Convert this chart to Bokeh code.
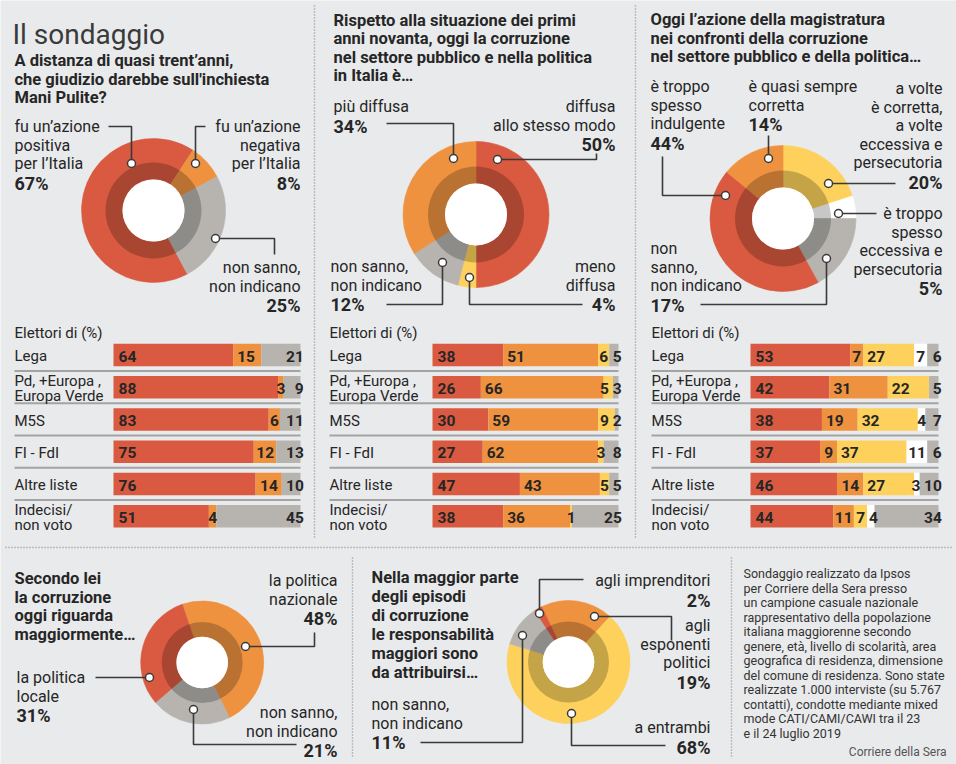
import math
from bokeh.plotting import figure
from bokeh.models import Range1d, ColumnDataSource
from bokeh.core.properties import value
from bokeh.embed import file_html
from bokeh.resources import INLINE

# ---------------- DATA ----------------
groups = ["Lega", "Pd, +Europa , Europa Verde", "M5S", "FI - FdI", "Altre liste", "Indecisi/ non voto"]
group_lines = [["Lega"], ["Pd, +Europa ,", "Europa Verde"], ["M5S"], ["FI - FdI"],
               ["Altre liste"], ["Indecisi/", "non voto"]]

# Q1 Mani Pulite
q1_cats = ["fu un’azione positiva per l’Italia", "fu un’azione negativa per l’Italia", "non sanno, non indicano"]
q1_vals = [67, 8, 25]
q1_positiva = [64, 88, 83, 75, 76, 51]
q1_negativa = [15, 3, 6, 12, 14, 4]
q1_nonsanno = [21, 9, 11, 13, 10, 45]

# Q2 corruzione rispetto ai primi anni novanta
q2_cats = ["diffusa allo stesso modo", "meno diffusa", "non sanno, non indicano", "più diffusa"]
q2_vals = [50, 4, 12, 34]
q2_piu = [38, 26, 30, 27, 47, 38]
q2_stesso = [51, 66, 59, 62, 43, 36]
q2_meno = [6, 5, 9, 3, 5, 1]
q2_nonsanno = [5, 3, 2, 8, 5, 25]

# Q3 azione della magistratura
q3_cats = ["a volte è corretta, a volte eccessiva e persecutoria", "è troppo spesso eccessiva e persecutoria",
           "non sanno, non indicano", "è troppo spesso indulgente", "è quasi sempre corretta"]
q3_vals = [20, 5, 17, 44, 14]
q3_indulgente = [53, 42, 38, 37, 46, 44]
q3_corretta = [7, 31, 19, 9, 14, 11]
q3_avolte = [27, 22, 32, 37, 27, 7]
q3_eccessiva = [7, 0, 4, 11, 3, 4]
q3_nonsanno = [6, 5, 7, 6, 10, 34]

# Q4 la corruzione riguarda maggiormente
q4_cats = ["la politica nazionale", "non sanno, non indicano", "la politica locale"]
q4_vals = [48, 21, 31]

# Q5 responsabilità
q5_cats = ["agli esponenti politici", "a entrambi", "non sanno, non indicano", "agli imprenditori"]
q5_vals = [19, 68, 11, 2]

note_lines = ["Sondaggio realizzato da Ipsos", "per Corriere della Sera presso",
              "un campione casuale nazionale", "rappresentativo della popolazione",
              "italiana maggiorenne secondo", "genere, età, livello di scolarità, area",
              "geografica di residenza, dimensione", "del comune di residenza. Sono state",
              "realizzate 1.000 interviste (su 5.767", "contatti), condotte mediante mixed",
              "mode CATI/CAMI/CAWI tra il 23", "e il 24 luglio 2019"]

# ---------------- STYLE ----------------
BG = "#e9eaec"
RED = "#d95a40"
ORANGE = "#ef9240"
YELLOW = "#fdd15c"
GRAY = "#b7b4b0"
WHITE = "#ffffff"
TXT = "#262626"
LINE = "#3a3a3a"
FONT = "Roboto"

X0, X1 = 0, 956
HREF = 764


def Y(r):
    return HREF - r


p = figure(width=956, height=764, x_range=Range1d(X0, X1), y_range=Range1d(0, HREF),
           x_axis_type=None, y_axis_type=None, toolbar_location=None, output_backend="svg",
           min_border=0)
p.outline_line_color = None
p.background_fill_color = BG
p.border_fill_color = BG


def T(x, y, s, size=16, bold=False, align="left", color=TXT, font=FONT, baseline="middle",
      xr=None, xoff=0):
    kw = {}
    if xr:
        kw["x_range_name"] = xr
    p.text(x=[x], y=[Y(y)], text=[s], text_font=value(font), text_font_size=value(f"{size}px"),
           text_font_style="bold" if bold else "normal", text_align=align, text_baseline=baseline,
           text_color=color, x_offset=xoff, **kw)


def block(x, y0, lines, pct, align="left", step=18.5, pstep=19.5):
    y = y0
    for ln in lines:
        T(x, y, ln, 16, False, align)
        y += step
    T(x, y - step + pstep, pct, 18, True, align)


def donut(cx, cy, r_out, r_mid, r_hole, vals, colors, start_cw):
    cum = 0.0
    sa, ea = [], []
    for v in vals:
        th1 = start_cw + cum * 3.6
        th2 = th1 + v * 3.6
        sa.append(math.radians(90 - th2))
        ea.append(math.radians(90 - th1))
        cum += v
    src = ColumnDataSource(dict(x=[cx] * len(vals), y=[Y(cy)] * len(vals), sa=sa, ea=ea, c=colors))
    p.annular_wedge(x="x", y="y", inner_radius=r_hole, outer_radius=r_out, start_angle="sa",
                    end_angle="ea", fill_color="c", line_color="c", line_width=0.6, source=src)
    p.annulus(x=[cx], y=[Y(cy)], inner_radius=r_hole, outer_radius=r_mid, fill_color="black",
              fill_alpha=0.22, line_color=None)
    p.circle(x=[cx], y=[Y(cy)], radius=r_hole, fill_color="white", line_color=None)


def leaders(paths, dots):
    p.multi_line(xs=[[a for a, b in pth] for pth in paths], ys=[[Y(b) for a, b in pth] for pth in paths],
                 line_color=LINE, line_width=1.6)
    p.scatter(x=[a for a, b in dots], y=[Y(b) for a, b in dots], size=8, marker="circle",
              fill_color="white", line_color=LINE, line_width=1.5)


# ---------------- DIVIDERS ----------------
p.multi_line(xs=[[314, 314], [635, 635], [5, 951], [352, 352], [731, 731]],
             ys=[[Y(5), Y(537)], [Y(5), Y(537)], [Y(547), Y(547)], [Y(557), Y(757)], [Y(557), Y(757)]],
             line_color="#8c8c8c", line_width=1.4, line_dash="1 2")

# ---------------- TOP DONUTS ----------------
T(12, 34, "Il sondaggio", 28, False, "left", "#3a3a3a", baseline="alphabetic")
for i, s in enumerate(["A distanza di quasi trent’anni,", "che giudizio darebbe sull'inchiesta", "Mani Pulite?"]):
    T(14, 60 + 18.5 * i, s, 16.5, True)

donut(153, 210, 72, 48, 31, [q1_vals[0], q1_vals[1], q1_vals[2]], [RED, ORANGE, GRAY], 152)
block(14, 126, ["fu un’azione", "positiva", "per l’Italia"], f"{q1_vals[0]}%")
block(300, 126, ["fu un’azione", "negativa", "per l’Italia"], f"{q1_vals[1]}%", "right")
block(300, 267, ["non sanno,", "non indicano"], f"{q1_vals[2]}%", "right")
leaders([[(108, 126), (131, 126), (131, 163)], [(205, 126), (195, 126), (195, 163)],
         [(215, 238), (274, 238), (274, 254)]],
        [(131, 163), (195, 163), (215, 238)])

for i, s in enumerate(["Rispetto alla situazione dei primi", "anni novanta, oggi la corruzione",
                       "nel settore pubblico e nella politica", "in Italia è…"]):
    T(333, 20 + 18.3 * i, s, 16.5, True)
donut(475.5, 214, 73, 48, 31, q2_vals, [RED, YELLOW, GRAY, ORANGE], 0)
block(333, 106, ["più diffusa"], f"{q2_vals[3]}%")
block(615, 106, ["diffusa", "allo stesso modo"], f"{q2_vals[0]}%", "right")
block(330, 266, ["non sanno,", "non indicano"], f"{q2_vals[2]}%")
block(615, 266, ["meno", "diffusa"], f"{q2_vals[1]}%", "right")
leaders([[(386, 123), (453, 123), (453, 158)], [(497, 159), (596, 159), (596, 153)],
         [(386, 304), (442, 304), (442, 262)], [(469, 277), (469, 304), (582, 304)]],
        [(453, 158), (497, 159), (442, 262), (469, 277)])

for i, s in enumerate(["Oggi l’azione della magistratura", "nei confronti della corruzione",
                       "nel settore pubblico e della politica…"]):
    T(650, 19 + 18.5 * i, s, 16.5, True)
donut(782.5, 218, 73, 48, 31, q3_vals, [YELLOW, WHITE, GRAY, RED, ORANGE], 0)
block(650, 86, ["è troppo", "spesso", "indulgente"], f"{q3_vals[3]}%")
block(748, 86, ["è quasi sempre", "corretta"], f"{q3_vals[4]}%")
block(942, 88, ["a volte", "è corretta,", "a volte", "eccessiva e", "persecutoria"], f"{q3_vals[0]}%", "right")
block(942, 213, ["è troppo", "spesso", "eccessiva e", "persecutoria"], f"{q3_vals[1]}%", "right")
block(650, 248, ["non", "sanno,", "non indicano"], f"{q3_vals[2]}%")
leaders([[(662, 156), (662, 195), (725, 195)], [(768, 158), (768, 135)], [(828, 183), (895, 183)],
         [(838, 213), (876, 213)], [(700, 304), (826, 304), (826, 258)]],
        [(725, 195), (768, 158), (828, 183), (838, 213), (826, 258)])

# ---------------- BAR PANELS ----------------
ROW_Y = [354.5 + 32.25 * i for i in range(6)]
panels = [
    dict(lx=14, bx0=113, bx1=300, series=[q1_positiva, q1_negativa, q1_nonsanno],
         colors=[RED, ORANGE, GRAY]),
    dict(lx=329, bx0=432, bx1=618, series=[q2_piu, q2_stesso, q2_meno, q2_nonsanno],
         colors=[RED, ORANGE, YELLOW, GRAY]),
    dict(lx=651, bx0=750, bx1=938, series=[q3_indulgente, q3_corretta, q3_avolte, q3_eccessiva, q3_nonsanno],
         colors=[RED, ORANGE, YELLOW, WHITE, GRAY]),
]
extra = {}
for k, pn in enumerate(panels):
    bw = pn["bx1"] - pn["bx0"]
    extra[f"pct{k}"] = Range1d((X0 - pn["bx0"]) * 100.0 / bw, (X1 - pn["bx0"]) * 100.0 / bw)
p.extra_x_ranges = extra

DIG = 8.7  # approx px width of a bold digit
GAP = 4
for k, pn in enumerate(panels):
    xr = f"pct{k}"
    bx0, bx1 = pn["bx0"], pn["bx1"]
    bw = bx1 - bx0
    T(pn["lx"], 332, "Elettori di (%)", 15)
    # separators
    p.multi_line(xs=[[pn["lx"], bx1] for i in range(5)],
                 ys=[[Y(ROW_Y[i] + 16.1)] * 2 for i in range(5)],
                 line_color="#a3a3a3", line_width=2)
    for i, lines in enumerate(group_lines):
        if len(lines) == 1:
            T(pn["lx"], ROW_Y[i] + 1, lines[0], 15)
        else:
            T(pn["lx"], ROW_Y[i] - 6.5, lines[0], 15)
            T(pn["lx"], ROW_Y[i] + 8.5, lines[1], 15)
    # bars
    lefts, rights, ys, cols = [], [], [], []
    for i in range(6):
        cum = 0
        for s, c in zip(pn["series"], pn["colors"]):
            v = s[i]
            lefts.append(cum)
            rights.append(cum + v)
            ys.append(Y(ROW_Y[i]))
            cols.append(c)
            cum += v
    p.hbar(y=ys, left=lefts, right=rights, height=22.5, fill_color=cols, line_color=None, x_range_name=xr)
    # value labels (positions in px, then converted back to the panel's percent scale)
    for i in range(6):
        vals = [s[i] for s in pn["series"]]
        last = max(j for j, v in enumerate(vals) if v > 0)
        labs = []
        cum = 0
        for j, v in enumerate(vals):
            st = bx0 + cum * bw / 100.0
            en = bx0 + (cum + v) * bw / 100.0
            cum += v
            if v == 0:
                continue
            txt = str(v)
            w = DIG * len(txt)
            if j == 0:
                left = st + 5
            elif j == last:
                left = bx1 + 3 - w
            elif en - st >= w + 10:
                left = st + 4
            else:
                left = (st + en) / 2.0 - w / 2.0
            labs.append([left, w, txt])
        # push right where crowded (not the last), then pull left before the last
        for m in range(1, len(labs) - 1):
            prev_r = labs[m - 1][0] + labs[m - 1][1]
            if labs[m][0] < prev_r + GAP:
                labs[m][0] = prev_r + GAP
        for m in range(len(labs) - 2, 0, -1):
            if labs[m][0] + labs[m][1] > labs[m + 1][0] - GAP:
                labs[m][0] = labs[m + 1][0] - GAP - labs[m][1]
        for left, w, txt in labs:
            T((left - bx0) * 100.0 / bw, ROW_Y[i] + 1, txt, 15.5, True, "left", xr=xr)

# ---------------- BOTTOM DONUTS ----------------
for i, s in enumerate(["Secondo lei", "la corruzione", "oggi riguarda", "maggiormente…"]):
    T(14, 578 + 18.7 * i, s, 16.5, True)
donut(201.7, 662, 61.5, 40.5, 25.8, q4_vals, [ORANGE, GRAY, RED], -19)
block(337, 580, ["la politica", "nazionale"], f"{q4_vals[0]}%", "right")
block(16, 677, ["la politica", "locale"], f"{q4_vals[2]}%")
block(337, 712, ["non sanno,", "non indicano"], f"{q4_vals[1]}%", "right")
leaders([[(245, 646), (314, 646), (314, 632)], [(95, 677), (149, 677)],
         [(193, 709), (193, 744), (296, 744)]],
        [(245, 646), (149, 677), (193, 709)])

for i, s in enumerate(["Nella maggior parte", "degli episodi", "di corruzione", "le responsabilità",
                       "maggiori sono", "da attribuirsi…"]):
    T(371, 577 + 19 * i, s, 16.5, True)
donut(568, 661.5, 61.5, 40.5, 25.8, q5_vals, [ORANGE, YELLOW, GRAY, RED], -26)
block(710, 580, ["agli imprenditori"], f"{q5_vals[3]}%", "right")
block(710, 625, ["agli", "esponenti", "politici"], f"{q5_vals[0]}%", "right")
block(371, 704, ["non sanno,", "non indicano"], f"{q5_vals[2]}%")
block(710, 727, ["a entrambi"], f"{q5_vals[1]}%", "right")
leaders([[(539, 613), (539, 579), (583, 579)], [(594, 616), (671, 616), (671, 640)],
         [(420, 742), (522, 742), (522, 635)], [(571, 713), (571, 745), (665, 745)]],
        [(539, 613), (594, 616), (522, 635), (571, 713)])

# ---------------- NOTE ----------------
for i, s in enumerate(note_lines):
    T(743, 573 + 14.5 * i, s, 12.5, False, "left", "#333333")
T(946, 751, "Corriere della Sera", 12, False, "right", "#555555")

open("out.html", "w").write(file_html(p, INLINE))
